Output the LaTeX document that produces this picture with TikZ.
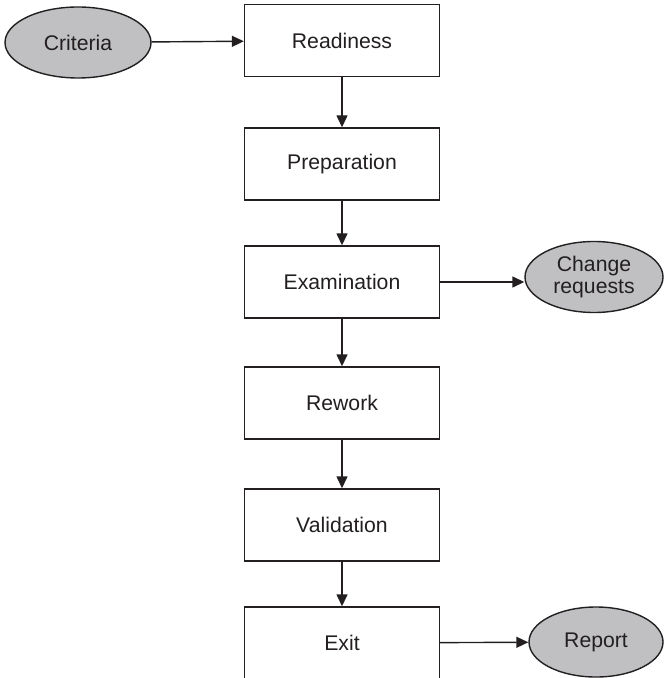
\documentclass[tikz,border=0pt]{standalone}
\usepackage{fontspec}
\setmainfont{Liberation Sans}
\usetikzlibrary{arrows.meta,shapes.geometric}
\definecolor{ink}{HTML}{231F20}
\definecolor{blob}{HTML}{C0C0C2}
\begin{document}
\begin{tikzpicture}[x=0.5pt,y=-0.5pt,
  font=\fontsize{10.6pt}{12pt}\selectfont,
  stage/.style={draw=ink,line width=0.7pt,fill=white,text=ink,
    minimum width=97.5pt,minimum height=36pt,inner sep=0pt},
  blobnode/.style={ellipse,draw=ink,line width=0.7pt,fill=blob,text=ink,
    inner sep=0pt,align=center},
  flow/.style={draw=ink,line width=0.7pt,-{Triangle[length=6pt,width=5.5pt]}}]
\useasboundingbox (0,0) rectangle (664,678);
% main chain of stages
\node[stage] (ready) at (342,40.5) {Readiness};
\node[stage] (prep)  at (342,164)  {Preparation};
\node[stage] (exam)  at (342,282)  {Examination};
\node[stage] (rework) at (342,403) {Rework};
\node[stage] (valid) at (342,525)  {Validation};
\node[stage] (exit)  at (342,643)  {Exit};
% inputs and outputs
\node[blobnode,minimum width=73pt,minimum height=35.5pt] (crit) at (78,42.5) {Criteria};
\node[blobnode,minimum width=69pt,minimum height=35.5pt] (change) at (594,277) {Change\\[-1pt]requests};
\node[blobnode,minimum width=67pt,minimum height=35pt] (report) at (596,642) {Report};
% connectors
\draw[flow] (crit) -- (ready);
\draw[flow] (ready) -- (prep);
\draw[flow] (prep) -- (exam);
\draw[flow] (exam) -- (rework);
\draw[flow] (rework) -- (valid);
\draw[flow] (valid) -- (exit);
\draw[flow] (exam.east) -- (exam.east -| change.west);
\draw[flow] (exit) -- (report);
\end{tikzpicture}
\end{document}
